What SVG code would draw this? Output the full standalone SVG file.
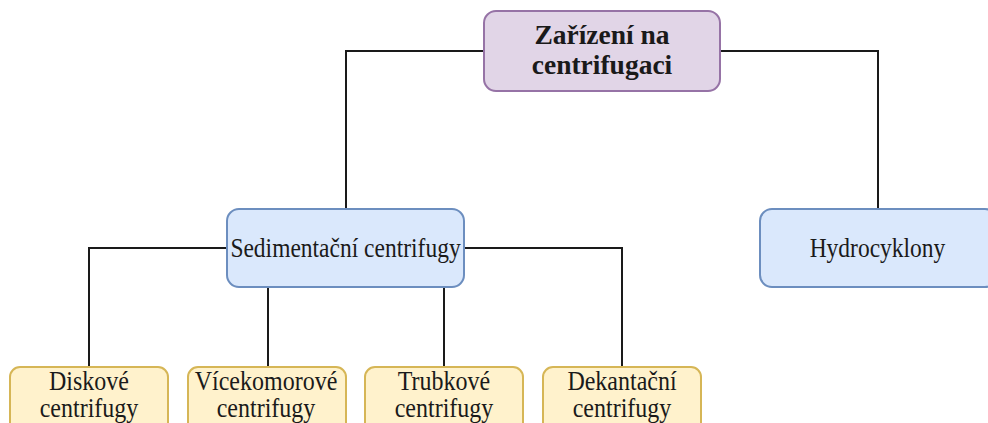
<svg xmlns="http://www.w3.org/2000/svg" width="988" height="423" viewBox="0 0 988 423">
<style>
.conn{fill:none;stroke:#1a1a1a;stroke-width:2}
.root rect{fill:#e1d5e7;stroke:#9673a6;stroke-width:2}
.blue rect{fill:#dae8fc;stroke:#6c8ebf;stroke-width:2}
.yel rect{fill:#fff2cc;stroke:#d6b656;stroke-width:2}
text{font-family:"Liberation Serif","Times New Roman",serif;fill:#1a1a1a;text-anchor:middle}
.b{font-weight:bold;font-size:27.5px}
.n{font-size:23.5px}
.s{font-size:24px}
</style>
<rect width="988" height="423" fill="#ffffff"/>
<g id="connectors">
<path class="conn" d="M484 51 H346 V209"/>
<path class="conn" d="M720 51 H878 V209"/>
<path class="conn" d="M227 248 H89 V367"/>
<path class="conn" d="M464 248 H622 V367"/>
<path class="conn" d="M268 287 V367"/>
<path class="conn" d="M444 287 V367"/>
</g>
<g id="root" class="root">
<rect x="484" y="11" width="236" height="80" rx="12"/>
<text class="b" x="602" y="44">Zařízení na</text>
<text class="b" x="602" y="74">centrifugaci</text>
</g>
<g id="sedimentacni" class="blue">
<rect x="227" y="209" width="237" height="78" rx="12"/>
<text class="n" transform="translate(345.5 256.5) scale(1 1.12)">Sedimentační centrifugy</text>
</g>
<g id="hydrocyklony" class="blue">
<rect x="760" y="209" width="237" height="78" rx="12"/>
<text class="n" transform="translate(877.5 256.5) scale(1 1.12)">Hydrocyklony</text>
</g>
<g id="diskove" class="yel">
<rect x="10" y="367" width="158" height="70" rx="10"/>
<text class="s" transform="translate(89 390) scale(1 1.1)">Diskové</text>
<text class="s" transform="translate(89 417) scale(1 1.1)">centrifugy</text>
</g>
<g id="vicekomorove" class="yel">
<rect x="188" y="367" width="158" height="70" rx="10"/>
<text class="s" transform="translate(266 390) scale(1 1.1)">Vícekomorové</text>
<text class="s" transform="translate(266 417) scale(1 1.1)">centrifugy</text>
</g>
<g id="trubkove" class="yel">
<rect x="365" y="367" width="158" height="70" rx="10"/>
<text class="s" transform="translate(444 390) scale(1 1.1)">Trubkové</text>
<text class="s" transform="translate(444 417) scale(1 1.1)">centrifugy</text>
</g>
<g id="dekantacni" class="yel">
<rect x="543" y="367" width="158" height="70" rx="10"/>
<text class="s" transform="translate(622 390) scale(1 1.1)">Dekantační</text>
<text class="s" transform="translate(622 417) scale(1 1.1)">centrifugy</text>
</g>
</svg>
